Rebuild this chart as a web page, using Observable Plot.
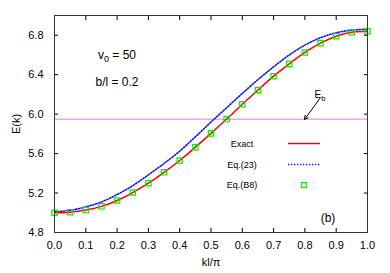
<!DOCTYPE html>
<html>
<head>
<meta charset="utf-8">
<script src="https://cdn.jsdelivr.net/npm/d3@7"></script>
<script src="https://cdn.jsdelivr.net/npm/@observablehq/plot@0.6"></script>
<style>
  html, body { margin: 0; padding: 0; background: #fff; }
  #chart svg { display: block; }
</style>
</head>
<body>
<div id="chart"></div>
<script>
const kValues = [0, 0.05, 0.1, 0.15, 0.2, 0.25, 0.3, 0.35, 0.4, 0.45, 0.5, 0.55, 0.6, 0.65, 0.7, 0.75, 0.8, 0.85, 0.9, 0.95, 1.0];
const exactE = [5.00, 5.006, 5.027, 5.065, 5.125, 5.205, 5.30, 5.41, 5.53, 5.665, 5.805, 5.95, 6.10, 6.245, 6.385, 6.51, 6.625, 6.72, 6.79, 6.83, 6.84];
const eq23E  = [5.01, 5.025, 5.06, 5.11, 5.185, 5.275, 5.385, 5.50, 5.625, 5.77, 5.92, 6.065, 6.21, 6.35, 6.48, 6.60, 6.70, 6.775, 6.825, 6.852, 6.86];
const eqB8E  = [5.00, 5.006, 5.027, 5.065, 5.125, 5.205, 5.30, 5.41, 5.53, 5.665, 5.805, 5.95, 6.10, 6.245, 6.385, 6.51, 6.625, 6.72, 6.79, 6.83, 6.84];
const Eb = 5.947;
const xTicks = [0, 0.1, 0.2, 0.3, 0.4, 0.5, 0.6, 0.7, 0.8, 0.9, 1.0];
const yTicks = [4.8, 5.2, 5.6, 6.0, 6.4, 6.8];
const legendLabels = ["Exact", "Eq.(23)", "Eq.(B8)"];
const annotV0 = "50";
const annotBl = "b/l = 0.2";
const panelLabel = "(b)";

const exactData = kValues.map((k, i) => ({k, E: exactE[i]}));
const eq23Data = kValues.map((k, i) => ({k, E: eq23E[i]}));
const b8Data = kValues.map((k, i) => ({k, E: eqB8E[i]}));

const RED = "#ff0000", BLUE = "#1010ff", GREEN = "#00f000", PINK = "#ff9cf8";
const FONT = "Liberation Sans, Arial, Helvetica, sans-serif";

function overlay(index, scales, values, dims) {
  const g = d3.create("svg:g").attr("font-family", FONT).attr("fill", "#000");
  const L = dims.marginLeft, T = dims.marginTop;
  const t1 = g.append("text").attr("x", L + 63).attr("y", T + 44).attr("font-size", 12);
  t1.append("tspan").text("v");
  t1.append("tspan").attr("font-size", 9).attr("dy", 3).text("0");
  t1.append("tspan").attr("dy", -3).text(" = " + annotV0);
  g.append("text").attr("x", L + 63).attr("y", T + 71).attr("font-size", 12).text(annotBl);
  g.append("text").attr("x", L + 274).attr("y", T + 207).attr("font-size", 12).attr("text-anchor", "middle").text(panelLabel);
  const te = g.append("text").attr("x", L + 266).attr("y", T + 83).attr("font-size", 10);
  te.append("tspan").text("E");
  te.append("tspan").attr("font-size", 7.5).attr("dy", 3).text("b");
  const lx = L + 188, sx1 = L + 234, sx2 = L + 266;
  const ys = [T + 128.5, T + 149.5, T + 170];
  legendLabels.forEach((lab, i) => {
    g.append("text").attr("x", lx).attr("y", ys[i]).attr("dy", "0.35em").attr("font-size", 9).text(lab);
  });
  g.append("line").attr("x1", sx1).attr("x2", sx2).attr("y1", ys[0]).attr("y2", ys[0]).attr("stroke", RED).attr("stroke-width", 1.5);
  g.append("line").attr("x1", sx1).attr("x2", sx2).attr("y1", ys[1]).attr("y2", ys[1]).attr("stroke", BLUE).attr("stroke-width", 1.6).attr("stroke-dasharray", "1.3,1.7");
  g.append("rect").attr("x", (sx1 + sx2) / 2 - 2.5).attr("y", ys[2] - 2.5).attr("width", 5).attr("height", 5).attr("fill", "none").attr("stroke", GREEN).attr("stroke-width", 1.2);
  return g.node();
}

const chart = Plot.plot({
  width: 390,
  height: 273,
  marginLeft: 54,
  marginRight: 23,
  marginTop: 15,
  marginBottom: 41,
  style: {fontFamily: FONT, fontSize: "11px", color: "#000", background: "#fff"},
  x: {domain: [0, 1], label: null},
  y: {domain: [4.8, 7.0], label: null},
  marks: [
    Plot.ruleY([Eb], {stroke: PINK, strokeWidth: 1.5}),
    Plot.arrow([{x1: 0.848, y1: 6.16, x2: 0.799, y2: Eb}], {x1: "x1", y1: "y1", x2: "x2", y2: "y2", stroke: "#000", strokeWidth: 1, headLength: 6}),
    Plot.line(eq23Data, {x: "k", y: "E", stroke: BLUE, strokeWidth: 1.6, strokeDasharray: "1.3,1.7", curve: "catmull-rom"}),
    Plot.line(exactData, {x: "k", y: "E", stroke: RED, strokeWidth: 1.5, curve: "catmull-rom"}),
    Plot.dot(b8Data, {x: "k", y: "E", symbol: "square", r: 3, stroke: GREEN, strokeWidth: 1.2, fill: "none"}),
    Plot.axisX({anchor: "bottom", ticks: xTicks, tickSize: -4, tickPadding: 13, tickFormat: d3.format(".1f"), label: "kl/π", labelArrow: "none", labelAnchor: "center", labelOffset: 33, fontSize: 11}),
    Plot.axisX({anchor: "top", ticks: xTicks, tickSize: -4, tickFormat: () => "", label: null}),
    Plot.axisY({anchor: "left", ticks: yTicks, tickSize: -4, tickPadding: 15, tickFormat: d3.format(".1f"), label: "E(k)", labelArrow: "none", labelAnchor: "center", labelOffset: 42, fontSize: 11}),
    Plot.axisY({anchor: "right", ticks: yTicks, tickSize: -4, tickFormat: () => "", label: null}),
    Plot.frame({stroke: "#333", strokeWidth: 1}),
    overlay
  ]
});
document.getElementById("chart").appendChild(chart);
</script>
</body>
</html>
